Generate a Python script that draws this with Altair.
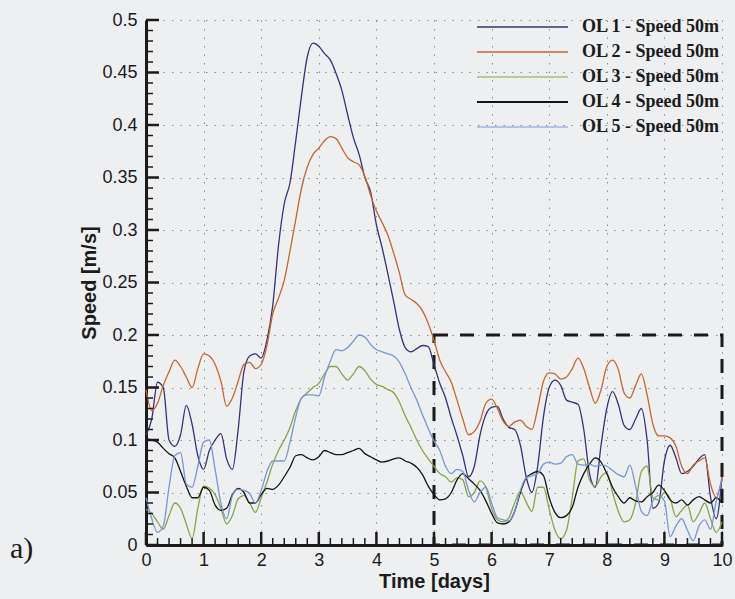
import altair as alt
import pandas as pd

# ---------------- data ----------------
T = [round(i * 0.1, 1) for i in range(101)]  # time in days

OL1 = [0.105, 0.120, 0.155, 0.150, 0.100, 0.094, 0.105, 0.133, 0.115, 0.085,
       0.072, 0.090, 0.100, 0.106, 0.082, 0.072, 0.110, 0.165, 0.180, 0.182,
       0.178, 0.195, 0.228, 0.285, 0.325, 0.345, 0.385, 0.428, 0.465, 0.478,
       0.475, 0.468, 0.462, 0.449, 0.433, 0.410, 0.388, 0.372, 0.350, 0.336,
       0.305, 0.283, 0.258, 0.232, 0.205, 0.188, 0.184, 0.187, 0.190, 0.189,
       0.172, 0.154, 0.140, 0.121, 0.104, 0.085, 0.065, 0.075, 0.105, 0.124,
       0.131, 0.132, 0.120, 0.112, 0.110, 0.095, 0.065, 0.050, 0.075, 0.122,
       0.150, 0.157, 0.152, 0.138, 0.136, 0.134, 0.110, 0.068, 0.055, 0.095,
       0.130, 0.146, 0.134, 0.114, 0.110, 0.120, 0.130, 0.100, 0.035, 0.040,
       0.080, 0.095, 0.083, 0.068, 0.070, 0.075, 0.082, 0.086, 0.046, 0.025,
       0.065]

OL2 = [0.148, 0.128, 0.135, 0.152, 0.165, 0.176, 0.170, 0.160, 0.150, 0.168,
       0.182, 0.180, 0.172, 0.156, 0.132, 0.140, 0.156, 0.172, 0.174, 0.168,
       0.172, 0.190, 0.220, 0.235, 0.252, 0.280, 0.310, 0.340, 0.360, 0.372,
       0.378, 0.385, 0.389, 0.387, 0.378, 0.369, 0.365, 0.362, 0.351, 0.333,
       0.318, 0.307, 0.295, 0.278, 0.259, 0.238, 0.234, 0.230, 0.223, 0.211,
       0.195, 0.176, 0.165, 0.155, 0.138, 0.120, 0.105, 0.108, 0.118, 0.135,
       0.139, 0.130, 0.118, 0.113, 0.117, 0.119, 0.113, 0.110, 0.130, 0.156,
       0.164, 0.163, 0.158, 0.160, 0.168, 0.178, 0.168, 0.150, 0.135, 0.148,
       0.170, 0.176, 0.167, 0.145, 0.140, 0.152, 0.163, 0.143, 0.115, 0.104,
       0.104, 0.102, 0.094, 0.075, 0.068, 0.076, 0.080, 0.083, 0.058, 0.045,
       0.065]

OL3 = [0.034, 0.030, 0.022, 0.015, 0.028, 0.040, 0.035, 0.020, 0.006, 0.035,
       0.056, 0.054, 0.048, 0.035, 0.020, 0.028, 0.044, 0.047, 0.040, 0.031,
       0.045, 0.060, 0.077, 0.090, 0.100, 0.112, 0.128, 0.140, 0.145, 0.150,
       0.154, 0.163, 0.170, 0.170, 0.163, 0.157, 0.163, 0.170, 0.166, 0.158,
       0.153, 0.151, 0.148, 0.145, 0.136, 0.123, 0.112, 0.100, 0.090, 0.082,
       0.075, 0.068, 0.065, 0.060, 0.064, 0.062, 0.046, 0.050, 0.061, 0.055,
       0.035, 0.024, 0.022, 0.026, 0.040, 0.051, 0.041, 0.032, 0.055, 0.055,
       0.034, 0.014, 0.006, 0.014, 0.045, 0.080, 0.082, 0.062, 0.056, 0.065,
       0.069, 0.050, 0.032, 0.022, 0.024, 0.040, 0.070, 0.075, 0.045, 0.043,
       0.050, 0.044, 0.027, 0.033, 0.038, 0.022, 0.030, 0.040, 0.025, 0.012,
       0.022]

OL4 = [0.101, 0.100, 0.098, 0.092, 0.087, 0.083, 0.070, 0.056, 0.045, 0.045,
       0.055, 0.052, 0.038, 0.033, 0.035, 0.048, 0.054, 0.050, 0.040, 0.040,
       0.048, 0.054, 0.053, 0.057, 0.065, 0.074, 0.085, 0.086, 0.083, 0.081,
       0.084, 0.090, 0.088, 0.086, 0.086, 0.088, 0.090, 0.092, 0.087, 0.084,
       0.081, 0.079, 0.080, 0.082, 0.083, 0.080, 0.078, 0.074, 0.067, 0.056,
       0.048, 0.043, 0.044, 0.050, 0.062, 0.068, 0.063, 0.058, 0.052, 0.042,
       0.030, 0.021, 0.020, 0.022, 0.032, 0.050, 0.064, 0.068, 0.070, 0.066,
       0.045, 0.031, 0.026, 0.028, 0.036, 0.055, 0.068, 0.077, 0.083, 0.079,
       0.068, 0.055, 0.046, 0.040, 0.045, 0.042, 0.041, 0.046, 0.050, 0.057,
       0.052, 0.043, 0.040, 0.043, 0.038, 0.043, 0.046, 0.043, 0.040, 0.045,
       0.040]

OL5 = [0.045, 0.025, 0.012, 0.018, 0.055, 0.085, 0.088, 0.058, 0.055, 0.075,
       0.098, 0.100, 0.072, 0.040, 0.025, 0.047, 0.053, 0.052, 0.049, 0.040,
       0.052, 0.070, 0.080, 0.080, 0.080, 0.098, 0.122, 0.140, 0.143, 0.143,
       0.142, 0.160, 0.175, 0.186, 0.185, 0.188, 0.194, 0.200, 0.198, 0.191,
       0.186, 0.184, 0.182, 0.180, 0.174, 0.163, 0.150, 0.138, 0.124, 0.111,
       0.099, 0.090, 0.075, 0.068, 0.072, 0.070, 0.052, 0.041, 0.050, 0.055,
       0.040, 0.026, 0.024, 0.023, 0.032, 0.052, 0.064, 0.066, 0.068, 0.077,
       0.079, 0.077, 0.078, 0.084, 0.086, 0.077, 0.076, 0.077, 0.075, 0.076,
       0.075, 0.071, 0.067, 0.065, 0.076, 0.056, 0.032, 0.028, 0.042, 0.047,
       0.042, 0.008, 0.018, 0.025, 0.014, 0.004, 0.018, 0.024, 0.015, 0.042,
       0.062]

SERIES = ["OL 1 - Speed 50m", "OL 2 - Speed 50m", "OL 3 - Speed 50m",
          "OL 4 - Speed 50m", "OL 5 - Speed 50m"]
COLORS = ["#36327a", "#c8652d", "#84a548", "#151515", "#7696d8"]
WIDTHS = [1.3, 1.3, 1.1, 2.0, 1.0]

X_TICKS = list(range(11))
Y_TICKS = [round(i * 0.05, 2) for i in range(11)]
X_MINOR = [round(i * 0.2, 1) for i in range(51) if i % 5]
Y_MINOR = [round(i * 0.01, 2) for i in range(51) if i % 5]

BOX_T = [5, 10]
BOX_V = [0, 0.2]

PANEL_LABEL = "a)"
X_TITLE = "Time [days]"
Y_TITLE = "Speed [m/s]"

# ---------------- layout ----------------
W, H = 576, 525
INK = "#1b1b1b"
SANS = "Liberation Sans"
SERIF = "Liberation Serif"

rows = []
for name, vals in zip(SERIES, [OL1, OL2, OL3, OL4, OL5]):
    for t, v in zip(T, vals):
        rows.append({"t": t, "v": v, "s": name})
df = pd.DataFrame(rows)

xs = alt.Scale(domain=[0, 10], nice=False, zero=False)
ys = alt.Scale(domain=[0, 0.5], nice=False)

lines = alt.Chart(df).mark_line(interpolate="monotone").encode(
    x=alt.X("t:Q", scale=xs,
            axis=alt.Axis(values=X_TICKS, title=X_TITLE, ticks=False, format="d",
                          labelFlush=False, labelPadding=6, titlePadding=2,
                          grid=True, gridDash=[1.5, 7], gridColor="#8a8a8a",
                          gridWidth=1, domainColor=INK, domainWidth=3,
                          labelFont=SANS, labelFontSize=18, labelColor=INK,
                          titleFont=SANS, titleFontSize=20, titleFontWeight="bold",
                          titleColor=INK)),
    y=alt.Y("v:Q", scale=ys,
            axis=alt.Axis(values=Y_TICKS, title=Y_TITLE, ticks=False, format="~g",
                          labelFlush=False, labelPadding=9, titlePadding=2,
                          grid=True, gridDash=[1.5, 7], gridColor="#8a8a8a",
                          gridWidth=1, domainColor=INK, domainWidth=3,
                          labelFont=SANS, labelFontSize=18, labelColor=INK,
                          titleFont=SANS, titleFontSize=20, titleFontWeight="bold",
                          titleColor=INK)),
    color=alt.Color("s:N", scale=alt.Scale(domain=SERIES, range=COLORS), legend=None),
    strokeWidth=alt.StrokeWidth("s:N", scale=alt.Scale(domain=SERIES, range=WIDTHS),
                                legend=None),
    detail="s:N",
)

# inward tick marks
xt_major = alt.Chart(pd.DataFrame({"t": X_TICKS})).mark_rule(color=INK, strokeWidth=2.5).encode(
    x=alt.X("t:Q", scale=xs), y=alt.value(H), y2=alt.value(H - 13))
xt_minor = alt.Chart(pd.DataFrame({"t": X_MINOR})).mark_rule(color=INK, strokeWidth=1.5).encode(
    x=alt.X("t:Q", scale=xs), y=alt.value(H), y2=alt.value(H - 7))
yt_major = alt.Chart(pd.DataFrame({"v": Y_TICKS})).mark_rule(color=INK, strokeWidth=2.5).encode(
    y=alt.Y("v:Q", scale=ys), x=alt.value(0), x2=alt.value(13))
yt_minor = alt.Chart(pd.DataFrame({"v": Y_MINOR})).mark_rule(color=INK, strokeWidth=1.5).encode(
    y=alt.Y("v:Q", scale=ys), x=alt.value(0), x2=alt.value(7))

# dashed box
box = alt.Chart(pd.DataFrame({"t": [BOX_T[0]], "t2": [BOX_T[1]],
                              "v": [BOX_V[0]], "v2": [BOX_V[1]]})).mark_rect(
    fillOpacity=0, stroke=INK, strokeWidth=3, strokeDash=[14, 12]).encode(
    x=alt.X("t:Q", scale=xs), x2="t2:Q", y=alt.Y("v:Q", scale=ys), y2="v2:Q")

# manual legend (one small layer per entry, placed in pixels)
legend_layers = []
for i, name in enumerate(SERIES):
    ld = pd.DataFrame({"s": [name]})
    legend_layers.append(alt.Chart(ld).mark_rule(
        color=COLORS[i], strokeWidth=WIDTHS[i]).encode(
        x=alt.value(331), x2=alt.value(422), y=alt.value(7 + 25 * i)))
    legend_layers.append(alt.Chart(ld).mark_text(
        align="left", baseline="middle", font=SERIF, fontSize=18,
        fontWeight="bold", color=INK).encode(
        x=alt.value(436), y=alt.value(7 + 25 * i), text="s:N"))

panel = alt.Chart(pd.DataFrame({"lab": [PANEL_LABEL]})).mark_text(
    align="left", baseline="alphabetic", font=SERIF, fontSize=30, color=INK).encode(
    x=alt.value(-136), y=alt.value(538), text="lab:N")

chart = alt.layer(
    box, lines, xt_major, xt_minor, yt_major, yt_minor, *legend_layers, panel
).properties(
    width=W, height=H,
    autosize=alt.AutoSizeParams(type="none"),
    padding={"left": 146, "top": 20, "right": 13, "bottom": 54},
    background="#edeff1",
).configure_view(strokeWidth=0)

chart.save("out.html", embed_options={"renderer": "svg", "actions": False})
